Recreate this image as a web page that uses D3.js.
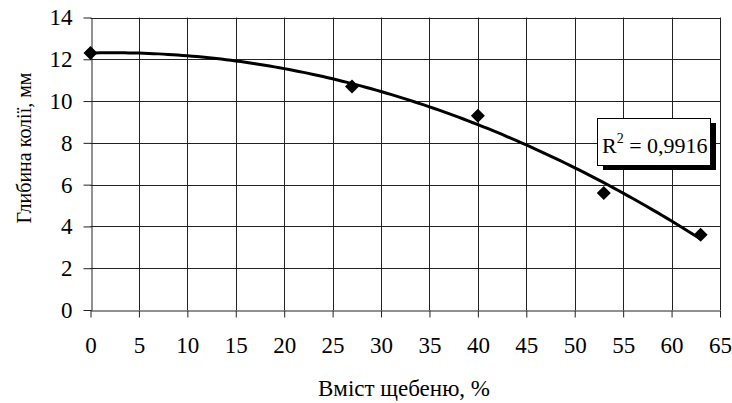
<!DOCTYPE html>
<html>
<head>
<meta charset="utf-8">
<script src="https://cdn.jsdelivr.net/npm/d3@7"></script>
<style>
  html, body { margin: 0; padding: 0; background: #fff; }
</style>
</head>
<body>
<div id="chart"></div>
<script>
const width = 732;
const height = 403;
const serif = "Liberation Serif";

// measured points
const gravel = [0, 27, 40, 53, 63];
const rutDepth = [12.3, 10.7, 9.3, 5.6, 3.6];

const xTicks = [0, 5, 10, 15, 20, 25, 30, 35, 40, 45, 50, 55, 60, 65];
const yTicks = [0, 2, 4, 6, 8, 10, 12, 14];

const xTitle = "Вміст щебеню, %";
const yTitle = "Глибина колії, мм";
const r2Label = "0,9916";

const margin = { top: 17.5, right: 12, bottom: 93, left: 90.5 };

const x = d3.scaleLinear().domain([0, 65]).range([margin.left, width - margin.right]);
const y = d3.scaleLinear().domain([0, 14]).range([height - margin.bottom, margin.top]);

const svg = d3.select("#chart").append("svg")
  .attr("width", width)
  .attr("height", height);

// grid
svg.append("g")
  .selectAll("line")
  .data(yTicks.slice(1))
  .join("line")
  .attr("x1", x(0)).attr("x2", x(65))
  .attr("y1", d => Math.round(y(d)) + 0.5)
  .attr("y2", d => Math.round(y(d)) + 0.5)
  .attr("stroke", "#222");

svg.append("g")
  .selectAll("line")
  .data(xTicks.slice(1))
  .join("line")
  .attr("y1", y(0)).attr("y2", y(14))
  .attr("x1", d => Math.round(x(d)) + 0.5)
  .attr("x2", d => Math.round(x(d)) + 0.5)
  .attr("stroke", "#222");

// axes
const xAxis = svg.append("g")
  .attr("transform", `translate(0, ${Math.round(y(0)) + 0.5})`)
  .call(d3.axisBottom(x).tickValues(xTicks).tickSize(7).tickPadding(19).tickSizeOuter(0));

const yAxis = svg.append("g")
  .attr("transform", `translate(${Math.round(x(0)) + 0.5}, 0)`)
  .call(d3.axisLeft(y).tickValues(yTicks).tickSize(8).tickPadding(11).tickSizeOuter(0));

[xAxis, yAxis].forEach(g => {
  g.attr("font-family", serif);
  g.select(".domain").attr("stroke", "#222");
  g.selectAll(".tick line").attr("stroke", "#222");
  g.selectAll(".tick text")
    .attr("font-family", serif)
    .attr("font-size", 23)
    .attr("fill", "#000");
});

// axis titles
svg.append("text")
  .attr("x", 404)
  .attr("y", 396)
  .attr("text-anchor", "middle")
  .attr("font-family", serif)
  .attr("font-size", 23)
  .text(xTitle);

svg.append("text")
  .attr("transform", `translate(31, 148) rotate(-90)`)
  .attr("text-anchor", "middle")
  .attr("font-family", serif)
  .attr("font-size", 20)
  .text(yTitle);

// quadratic trendline fitted to the points (least squares)
function quadFit(xs, ys) {
  const s = [0, 0, 0, 0, 0];
  const t = [0, 0, 0];
  xs.forEach((xi, i) => {
    for (let k = 0; k < 5; k++) s[k] += Math.pow(xi, k);
    for (let k = 0; k < 3; k++) t[k] += ys[i] * Math.pow(xi, k);
  });
  const m = [
    [s[0], s[1], s[2], t[0]],
    [s[1], s[2], s[3], t[1]],
    [s[2], s[3], s[4], t[2]],
  ];
  for (let i = 0; i < 3; i++) {
    for (let j = i + 1; j < 3; j++) {
      const f = m[j][i] / m[i][i];
      for (let k = i; k < 4; k++) m[j][k] -= f * m[i][k];
    }
  }
  const c = [0, 0, 0];
  for (let i = 2; i >= 0; i--) {
    let v = m[i][3];
    for (let k = i + 1; k < 3; k++) v -= m[i][k] * c[k];
    c[i] = v / m[i][i];
  }
  return c;
}

const coef = quadFit(gravel, rutDepth);
const trend = d3.range(0, 63.01, 0.5).map(v => [v, coef[0] + coef[1] * v + coef[2] * v * v]);

svg.append("path")
  .datum(trend)
  .attr("fill", "none")
  .attr("stroke", "#000")
  .attr("stroke-width", 3)
  .attr("d", d3.line().x(d => x(d[0])).y(d => y(d[1])));

// markers
svg.append("g")
  .selectAll("path")
  .data(gravel.map((g, i) => [g, rutDepth[i]]))
  .join("path")
  .attr("transform", d => `translate(${x(d[0])}, ${y(d[1])})`)
  .attr("d", "M0,-7L7,0L0,7L-7,0Z")
  .attr("fill", "#000");

// R² label box with shadow
const box = { x: 597, y: 118, w: 113, h: 47 };
svg.append("rect")
  .attr("x", box.x + 6).attr("y", box.y + 5)
  .attr("width", box.w).attr("height", box.h)
  .attr("fill", "#000");
svg.append("rect")
  .attr("x", box.x + 0.5).attr("y", box.y + 0.5)
  .attr("width", box.w).attr("height", box.h)
  .attr("fill", "#fff")
  .attr("stroke", "#000");

const r2 = svg.append("text")
  .attr("x", box.x + 5)
  .attr("y", box.y + 35)
  .attr("font-family", serif)
  .attr("font-size", 22);
r2.append("tspan").text("R");
r2.append("tspan").attr("font-size", 14).attr("dy", -10).text("2");
r2.append("tspan").attr("dy", 10).text(" = " + r2Label);
</script>
</body>
</html>
